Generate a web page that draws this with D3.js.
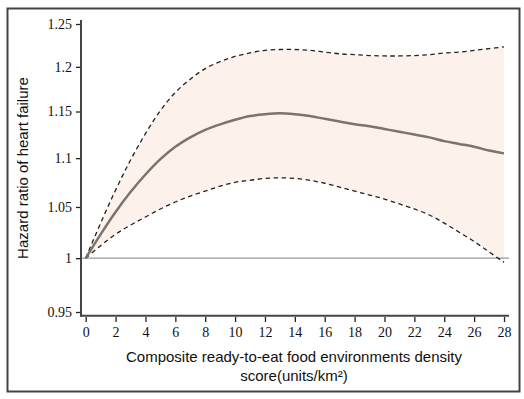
<!DOCTYPE html>
<html>
<head>
<meta charset="utf-8">
<script src="https://cdn.jsdelivr.net/npm/d3@7"></script>
<style>
  body { margin: 0; background: #fff; }
  .tick text { font-family: "Liberation Serif", "Times New Roman", serif; font-size: 14px; fill: #111; }
  .title { font-family: "Liberation Sans", Arial, sans-serif; font-size: 15px; fill: #111; }
</style>
</head>
<body>
<svg id="chart" width="524" height="399"></svg>
<script>
const xValues = [0, 1, 2, 3, 4, 5, 6, 7, 8, 9, 10, 11, 12, 13, 14, 15, 16, 17, 18, 19, 20, 21, 22, 23, 24, 25, 26, 27, 28]
const hrMean = [1.000, 1.023, 1.045, 1.065, 1.083, 1.099, 1.112, 1.122, 1.130, 1.136, 1.141, 1.145, 1.147, 1.148, 1.147,
  1.145, 1.142, 1.139, 1.136, 1.134, 1.131, 1.128, 1.125, 1.122, 1.118, 1.115, 1.112, 1.108, 1.105]
const hrUpper = [1.000, 1.034, 1.067, 1.098, 1.126, 1.151, 1.171, 1.186, 1.198, 1.206, 1.212, 1.216, 1.219, 1.220, 1.220,
  1.219, 1.217, 1.215, 1.214, 1.213, 1.2125, 1.2125, 1.213, 1.214, 1.216, 1.217, 1.219, 1.221, 1.223]
const hrLower = [1.000, 1.012, 1.023, 1.032, 1.040, 1.048, 1.055, 1.061, 1.066, 1.071, 1.075, 1.077, 1.079, 1.0795, 1.079,
  1.077, 1.074, 1.070, 1.066, 1.062, 1.058, 1.053, 1.048, 1.042, 1.034, 1.025, 1.016, 1.006, 0.996]
const xTicks = [0, 2, 4, 6, 8, 10, 12, 14, 16, 18, 20, 22, 24, 26, 28]
const yTicks = [0.95, 1, 1.05, 1.1, 1.15, 1.2, 1.25]

const svg = d3.select('#chart')

// outer frame
svg.append('rect')
  .attr('x', 7.5).attr('y', 8.5)
  .attr('width', 512).attr('height', 383)
  .attr('fill', 'none')
  .attr('stroke', '#444')
  .attr('stroke-width', 2)

const x = d3.scaleLinear().domain([0, 28]).range([85.7, 504])
const y = d3.scaleLog().domain([0.95, 1.25]).range([312, 24])

const data = xValues.map((v, i) => ({x: v, m: hrMean[i], lo: hrLower[i], hi: hrUpper[i]}))
const curve = d3.curveCatmullRom.alpha(0.5)

svg.append('path')
  .datum(data)
  .attr('fill', '#fdf2eb')
  .attr('d', d3.area().x((d) => x(d.x)).y0((d) => y(d.lo)).y1((d) => y(d.hi)).curve(curve))

// reference line at HR = 1
svg.append('line')
  .attr('x1', 81).attr('x2', 509)
  .attr('y1', y(1)).attr('y2', y(1))
  .attr('stroke', '#999')
  .attr('stroke-width', 1.2)

const line = (key) => d3.line().x((d) => x(d.x)).y((d) => y(d[key])).curve(curve)

;['hi', 'lo'].forEach((key) => {
  svg.append('path')
    .datum(data)
    .attr('fill', 'none')
    .attr('stroke', '#222')
    .attr('stroke-width', 1.3)
    .attr('stroke-dasharray', '4.5,3.5')
    .attr('d', line(key))
})

svg.append('path')
  .datum(data)
  .attr('fill', 'none')
  .attr('stroke', '#7d736d')
  .attr('stroke-width', 2.5)
  .attr('d', line('m'))

// axes
const yAxis = svg.append('g')
  .attr('transform', 'translate(81,0)')
  .call(d3.axisLeft(y).tickValues(yTicks).tickFormat((d) => d3.format('')(+d.toFixed(2))).tickSize(5).tickPadding(4))
yAxis.select('.domain').remove()
yAxis.selectAll('.tick line').attr('stroke', '#222').attr('stroke-width', 1.3)

const xAxis = svg.append('g')
  .attr('transform', 'translate(0,317)')
  .call(d3.axisBottom(x).tickValues(xTicks).tickSize(5).tickPadding(5))
xAxis.select('.domain').remove()
xAxis.selectAll('.tick line').attr('stroke', '#222').attr('stroke-width', 1.3)

svg.append('line')
  .attr('x1', 81).attr('x2', 81).attr('y1', 20).attr('y2', 316.5)
  .attr('stroke', '#444').attr('stroke-width', 2)
svg.append('line')
  .attr('x1', 80).attr('x2', 509).attr('y1', 315.8).attr('y2', 315.8)
  .attr('stroke', '#444').attr('stroke-width', 2)

svg.append('text')
  .attr('class', 'title')
  .attr('transform', 'translate(28,168) rotate(-90)')
  .attr('text-anchor', 'middle')
  .text('Hazard ratio of heart failure')

svg.append('text')
  .attr('class', 'title')
  .attr('x', 294).attr('y', 362)
  .attr('text-anchor', 'middle')
  .text('Composite ready-to-eat food environments density')
svg.append('text')
  .attr('class', 'title')
  .attr('x', 294).attr('y', 381)
  .attr('text-anchor', 'middle')
  .text('score(units/km²)')
</script>
</body>
</html>
